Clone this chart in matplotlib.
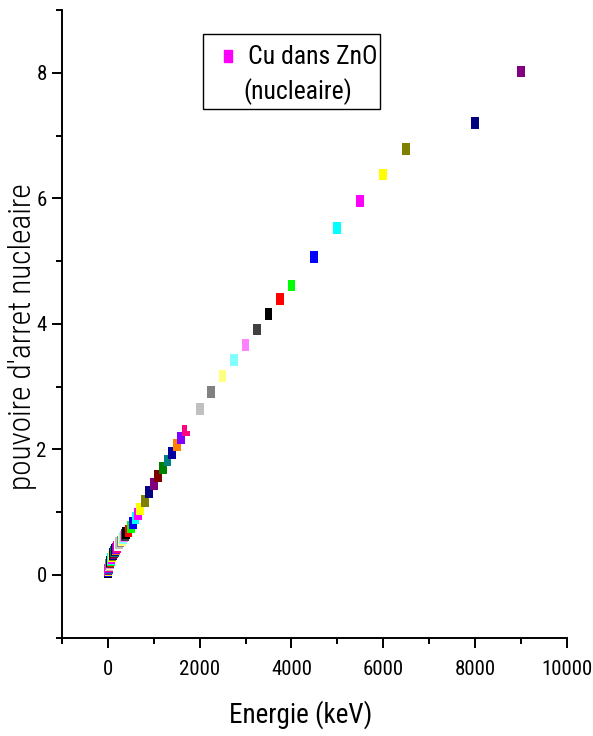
import matplotlib
matplotlib.use("Agg")
import matplotlib.pyplot as plt
from matplotlib import font_manager as fm
from matplotlib.patches import Rectangle
from matplotlib.lines import Line2D
from matplotlib.ticker import MultipleLocator

# ---- data (energy in keV, nuclear stopping power) ----
energie = [6, 6.5, 7, 8, 9, 10, 11, 12, 13, 14, 15, 16, 17, 18, 20, 22.5, 25, 27.5,
           30, 32.5, 35, 37.5, 40, 45, 50, 55, 60, 65, 70, 80, 90, 100, 110, 120,
           130, 140, 150, 160, 170, 180, 200, 225, 250, 275, 300, 325, 350, 375,
           400, 450, 500, 550, 600, 650, 700, 800, 900, 1000, 1100, 1200, 1300,
           1400, 1500, 1600, 1700, 1800, 2000, 2250, 2500, 2750, 3000, 3250, 3500,
           3750, 4000, 4500, 5000, 5500, 6000, 6500, 8000, 9000]
pouvoir = [0.05, 0.055, 0.06, 0.065, 0.07, 0.075, 0.08, 0.085, 0.09, 0.095, 0.10, 0.105,
           0.11, 0.115, 0.12, 0.13, 0.14, 0.15, 0.16, 0.165, 0.17, 0.18, 0.19, 0.20,
           0.21, 0.22, 0.235, 0.245, 0.255, 0.27, 0.29, 0.31, 0.325, 0.34, 0.355,
           0.37, 0.38, 0.395, 0.405, 0.42, 0.44, 0.47, 0.50, 0.53, 0.555, 0.58,
           0.61, 0.635,
           0.66, 0.70, 0.76, 0.83, 0.90, 0.97, 1.05, 1.18, 1.32, 1.45, 1.58, 1.70,
           1.82, 1.94, 2.07, 2.18, 2.30, 2.39, 2.64, 2.91, 3.17, 3.42, 3.66, 3.91,
           4.15, 4.39, 4.61, 5.07, 5.52, 5.96, 6.38, 6.79, 7.20, 8.02]

# Origin default colour increment list
origin_colors = ["#000000", "#FF0000", "#00FF00", "#0000FF", "#00FFFF", "#FF00FF",
                 "#FFFF00", "#808000", "#000080", "#800080", "#800000", "#008000",
                 "#008080", "#0000A0", "#FF8000", "#8000FF", "#FF0080", "#FFFFFF",
                 "#C0C0C0", "#808080", "#FFFF80", "#80FFFF", "#FF80FF", "#404040"]

legend_label_1 = "Cu dans ZnO"
legend_label_2 = "(nucleaire)"
xlabel = "Energie (keV)"
ylabel = "pouvoire d'arret nucleaire"

# pick a narrow sans font if one is installed, else Liberation Sans (Arial metrics)
installed = {f.name for f in fm.fontManager.ttflist}
narrow = None
for cand in ["Liberation Sans Narrow", "Arial Narrow", "Roboto Condensed",
             "Open Sans Condensed", "Noto Sans Condensed", "DejaVu Sans Condensed"]:
    if cand in installed:
        narrow = cand
        break
stretch = "normal"
if narrow is None:
    for f in fm.fontManager.ttflist:
        if f.name in ("Liberation Sans", "Roboto", "Noto Sans", "Open Sans") and \
                str(f.stretch) in ("condensed", "semi-condensed", "extra-condensed"):
            narrow = f.name
            stretch = str(f.stretch)
            break
base = narrow if narrow else "Liberation Sans"
plt.rcParams["font.family"] = [base, "Liberation Sans", "DejaVu Sans"]
plt.rcParams["font.stretch"] = stretch
scale = 1.0 if narrow else 0.85

fig = plt.figure(figsize=(5.93, 7.36), dpi=100)
ax = fig.add_axes([0.1046, 0.1338, 0.851, 0.8526])

rect_marker = [(-0.33, -0.5), (0.33, -0.5), (0.33, 0.5), (-0.33, 0.5), (-0.33, -0.5)]
colors = [origin_colors[i % len(origin_colors)] for i in range(len(energie))]
ax.scatter(energie, pouvoir, c=colors, marker=rect_marker, s=8.5 ** 2,
           linewidths=0, zorder=3)

ax.set_xlim(-1000, 10000)
ax.set_ylim(-1, 9)
ax.set_xticks([0, 2000, 4000, 6000, 8000, 10000])
ax.set_yticks([0, 2, 4, 6, 8])
ax.xaxis.set_minor_locator(MultipleLocator(1000))
ax.yaxis.set_minor_locator(MultipleLocator(1))

for s in ["top", "right"]:
    ax.spines[s].set_visible(False)
for s in ["left", "bottom"]:
    ax.spines[s].set_linewidth(1.4)

ax.tick_params(which="major", direction="out", length=7, width=1.4,
               labelsize=15 * scale, pad=4)
ax.tick_params(which="minor", direction="out", length=4, width=1.4)
ax.tick_params(axis="x", which="major", pad=9)

ax.set_xlabel(xlabel, fontsize=19.5 * scale)
ax.xaxis.set_label_coords(0.472, -0.100)
ax.set_ylabel(ylabel, fontsize=22.5 * scale, fontweight="light")
ax.yaxis.set_label_coords(-0.050, 0.479)

# legend box (Origin style)
fig.patches.append(Rectangle((0.342, 0.852), 0.299, 0.1018, transform=fig.transFigure,
                             facecolor="white", edgecolor="black", linewidth=1.0,
                             zorder=5))
fig.add_artist(Line2D([0.3845], [0.924], transform=fig.transFigure, marker=rect_marker,
                      markersize=8.5, color="#FF00FF", linestyle="none", zorder=6))
fig.text(0.418, 0.9226, legend_label_1, fontsize=18.5 * scale, va="center", ha="left",
         zorder=6)
fig.text(0.5025, 0.876, legend_label_2, fontsize=18.5 * scale, va="center", ha="center",
         zorder=6)

fig.savefig("out.png", dpi=100)
